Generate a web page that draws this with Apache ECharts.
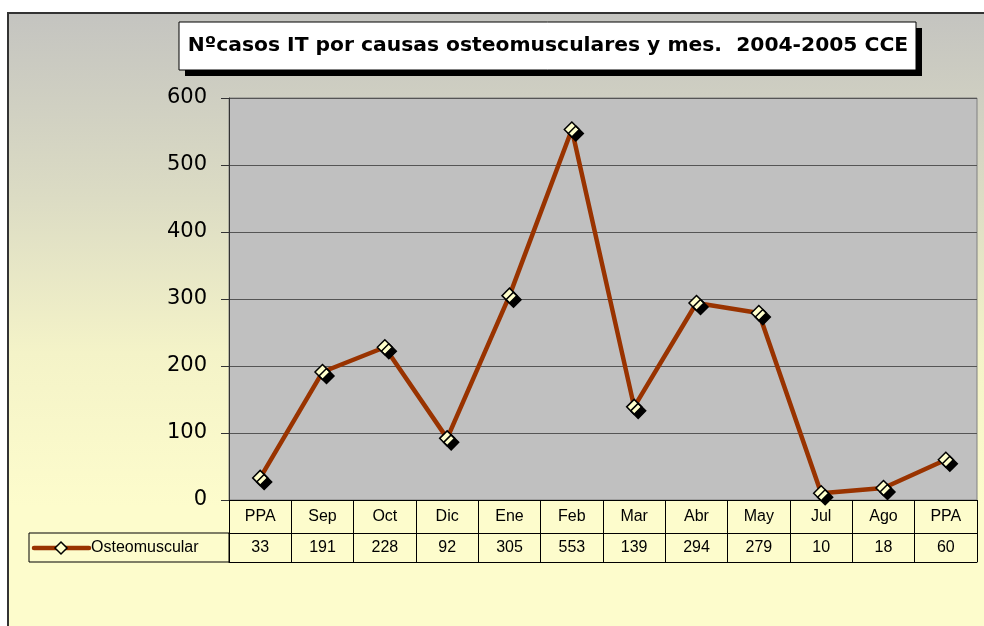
<!DOCTYPE html>
<html>
<head>
<meta charset="utf-8">
<script src="https://cdn.jsdelivr.net/npm/echarts@6/dist/echarts.min.js"></script>
<style>
  html, body { margin: 0; padding: 0; background: #fff; }
  #bg {
    position: absolute; left: 7px; top: 12px; width: 990px; height: 620px;
    border: 2px solid #333; box-sizing: border-box;
    background: linear-gradient(to bottom, #c4c4c0 0%, #dcdcc4 30%, #f4f3c8 55%, #fdfccc 80%, #fdfccc 100%);
  }
  #chart { position: absolute; left: 0; top: 0; width: 984px; height: 626px; }
</style>
</head>
<body>
<div id="bg"></div>
<div id="chart"></div>
<script>
// datos
const meses = ['PPA', 'Sep', 'Oct', 'Dic', 'Ene', 'Feb', 'Mar', 'Abr', 'May', 'Jul', 'Ago', 'PPA']
const osteomuscular = [33, 191, 228, 92, 305, 553, 139, 294, 279, 10, 18, 60]
const yTicks = [0, 100, 200, 300, 400, 500, 600]
const serieNombre = 'Osteomuscular'
const titulo = 'Nºcasos IT por causas osteomusculares y mes.  2004-2005 CCE'

const fuente = 'Liberation Sans, Arial, sans-serif'
const chart = echarts.init(document.getElementById('chart'))

const option = {
    animation: false,
    textStyle: { fontFamily: fuente },
    grid: {
        left: 229, right: 7, top: 98, bottom: 126,
        show: true,
        backgroundColor: '#c0c0c0',
        borderColor: '#808080',
        borderWidth: 1
    },
    xAxis: [
        {
            type: 'category',
            data: meses,
            boundaryGap: true,
            axisLine: { lineStyle: { color: '#000', width: 1 } },
            axisTick: { show: true, interval: 0, length: 62, lineStyle: { color: '#000' } },
            axisLabel: { interval: 0, margin: 9, fontSize: 16, color: '#000' },
            splitLine: { show: false }
        },
        {
            type: 'category',
            data: osteomuscular.map(String),
            boundaryGap: true,
            offset: 33,
            position: 'bottom',
            axisLine: { lineStyle: { color: '#000', width: 1 } },
            axisTick: { show: false },
            axisLabel: { interval: 0, margin: 7, fontSize: 16, color: '#000' },
            splitLine: { show: false }
        },
        {
            type: 'category',
            data: meses,
            boundaryGap: true,
            offset: 62,
            position: 'bottom',
            axisLine: { lineStyle: { color: '#000', width: 1 } },
            axisTick: { show: false },
            axisLabel: { show: false },
            splitLine: { show: false }
        }
    ],
    yAxis: {
        type: 'value',
        min: yTicks[0],
        max: yTicks[yTicks.length - 1],
        interval: 100,
        axisLine: { show: true, lineStyle: { color: '#333', width: 1 } },
        axisTick: { show: true, length: 8, lineStyle: { color: '#333' } },
        axisLabel: { margin: 22, fontSize: 21, color: '#000', fontFamily: 'DejaVu Sans, sans-serif' },
        splitLine: { lineStyle: { color: '#555', width: 1 } }
    },
    series: [
        {
            name: serieNombre,
            type: 'line',
            data: osteomuscular,
            xAxisIndex: 0,
            symbol: 'diamond',
            symbolSize: 15,
            lineStyle: { color: '#993300', width: 4.5 },
            itemStyle: {
                color: '#ffffcc',
                borderColor: '#000',
                borderWidth: 1.5,
                shadowColor: '#000',
                shadowOffsetX: 4,
                shadowOffsetY: 4,
                shadowBlur: 0
            },
            emphasis: { disabled: true },
            z: 5
        }
    ],
    graphic: [
        // caja del título con sombra
        {
            type: 'rect',
            shape: { x: 185, y: 28, width: 737, height: 48 },
            style: { fill: '#000' }
        },
        {
            type: 'rect',
            shape: { x: 179, y: 22, width: 737, height: 48 },
            style: { fill: '#fff', stroke: '#000', lineWidth: 1 }
        },
        {
            type: 'text',
            x: 548, y: 46,
            style: {
                text: titulo, fontSize: 20.3, fontWeight: 'bold', fill: '#000',
                align: 'center', verticalAlign: 'middle', fontFamily: 'DejaVu Sans, sans-serif'
            }
        },
        // celda de leyenda
        {
            type: 'rect',
            shape: { x: 29, y: 533, width: 200, height: 29 },
            style: { fill: 'rgba(0,0,0,0)', stroke: '#000', lineWidth: 1 }
        },
        {
            type: 'line',
            shape: { x1: 34, y1: 548, x2: 89, y2: 548 },
            style: { stroke: '#993300', lineWidth: 4.5, lineCap: 'round' }
        },
        {
            type: 'polygon',
            shape: { points: [[61, 542], [67, 548], [61, 554], [55, 548]] },
            style: { fill: '#ffffcc', stroke: '#000', lineWidth: 1.5 }
        },
        {
            type: 'text',
            x: 91, y: 548,
            style: { text: serieNombre, fontSize: 16, fill: '#000', verticalAlign: 'middle', fontFamily: fuente }
        }
    ]
}

chart.setOption(option)
</script>
</body>
</html>
